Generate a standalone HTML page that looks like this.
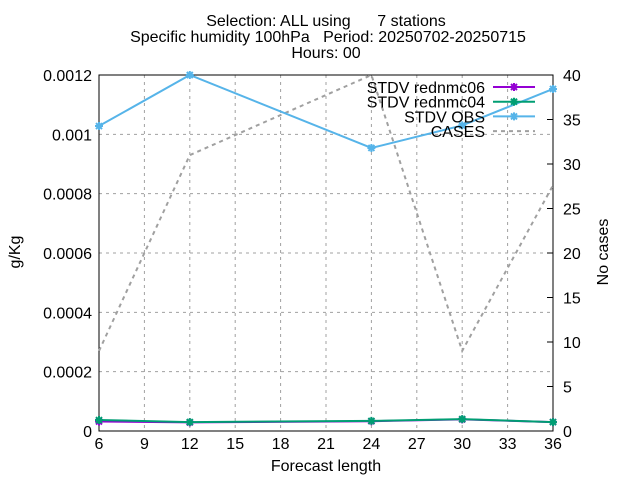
<!DOCTYPE html>
<html><head><meta charset="utf-8"><style>
body{margin:0;background:#fff}
svg text{font-family:"Liberation Sans",sans-serif;font-size:16px;fill:#000;white-space:pre}
</style></head><body>
<svg id="c" width="640" height="480" xmlns="http://www.w3.org/2000/svg">
<text x="326" y="26" text-anchor="middle">Selection: ALL using      7 stations</text>
<text x="328" y="42" text-anchor="middle">Specific humidity 100hPa   Period: 20250702-20250715</text>
<text x="326" y="58" text-anchor="middle">Hours: 00</text>
<g id="grid"></g><g id="axes"></g><g id="series"></g>
<text x="326" y="471" text-anchor="middle">Forecast length</text>
<text transform="translate(20,252) rotate(-90)" text-anchor="middle">g/Kg</text>
<text transform="translate(608,252) rotate(-90)" text-anchor="middle">No cases</text>
<g id="legend"></g>
</svg>
<script>
const xTicks=[6,9,12,15,18,21,24,27,30,33,36];
const yTicks=[0,0.0002,0.0004,0.0006,0.0008,0.001,0.0012];
const yTickLabels=["0","0.0002","0.0004","0.0006","0.0008","0.001","0.0012"];
const y2Ticks=[0,5,10,15,20,25,30,35,40];
const steps=[6,12,24,30,36];
const obs=[0.001028,0.0012,0.000954,0.00103,0.001153];
const red04=[0.000037,0.00003,0.000034,0.00004,0.00003];
const red06=[0.000032,0.000029,0.000033,0.000039,0.00003];
const cases=[9,31,40,9,27.6];
const L=99,R=553,T=75,B=431;
const X=v=>L+(v-6)/30*(R-L), Y=v=>B-v/0.0012*(B-T), Y2=v=>B-v/40*(B-T);
const NS="http://www.w3.org/2000/svg";
function mk(p,tag,a){const e=document.createElementNS(NS,tag);for(const k in a)e.setAttribute(k,a[k]);document.getElementById(p).appendChild(e);return e;}
xTicks.forEach(t=>{
 const g=mk('grid','line',{x1:X(t),x2:X(t),y1:T,y2:B,stroke:'#a0a0a0','stroke-dasharray':'3,4','stroke-width':1});
 
 
 const tx=mk('axes','text',{x:X(t),y:B+18,'text-anchor':'middle'});tx.textContent=t;
 
 
});
yTicks.forEach((t,i)=>{
 const g=mk('grid','line',{x1:L,x2:R,y1:Y(t),y2:Y(t),stroke:'#a0a0a0','stroke-dasharray':'3,4','stroke-width':1});
 
 
 const tx=mk('axes','text',{x:L-7,y:Y(t)+6,'text-anchor':'end'});tx.textContent=yTickLabels[i];
 
 
});
y2Ticks.forEach(t=>{
 const l=mk('axes','line',{x1:R-6,x2:R,y1:Y2(t),y2:Y2(t),stroke:'#000'});
 
 
 const tx=mk('axes','text',{x:R+10,y:Y2(t)+6});tx.textContent=t;
 
 
});
const fr=mk('axes','rect',{x:L,y:T,width:R-L,height:B-T,fill:'none',stroke:'#000'});


function star(p,x,y,c){const d=`M${x-4} ${y}H${x+4}M${x} ${y-4}V${y+4}M${x-3} ${y-3}L${x+3} ${y+3}M${x-3} ${y+3}L${x+3} ${y-3}`;return mk(p,'path',{d:d,stroke:c,'stroke-width':2,fill:'none'});}
function series(vals,yf,c,dash,name,mark){
 const pl=mk('series','polyline',{points:steps.map((s,i)=>X(s)+','+yf(vals[i])).join(' '),fill:'none',stroke:c,'stroke-width':2});
 if(dash)pl.setAttribute('stroke-dasharray',dash);
 
 
 if(mark)steps.forEach((s,i)=>{const m=star('series',X(s),yf(vals[i]),c);
  
  });
}
series(cases,Y2,'#a0a0a0','4,4','cases-line',false);
series(red06,Y,'#9400d3',null,'rednmc06-line',true);
series(red04,Y,'#009e73',null,'rednmc04-line',true);
series(obs,Y,'#56b4e9',null,'obs-line',true);
const leg=[["STDV rednmc06","#9400d3",0],["STDV rednmc04","#009e73",0],["STDV OBS","#56b4e9",0],["CASES","#a0a0a0",1]];
leg.forEach((e,i)=>{const y=87+i*14.7;
 const t=mk('legend','text',{x:485,y:y+6,'text-anchor':'end'});t.textContent=e[0];
 
 
 const l=mk('legend','line',{x1:493,x2:535,y1:y,y2:y,stroke:e[1],'stroke-width':2});
 if(e[2])l.setAttribute('stroke-dasharray','4,4');
 
 
 if(!e[2]){const m=star('legend',514,y,e[1]);
  
  }
});
</script>
</body></html>
